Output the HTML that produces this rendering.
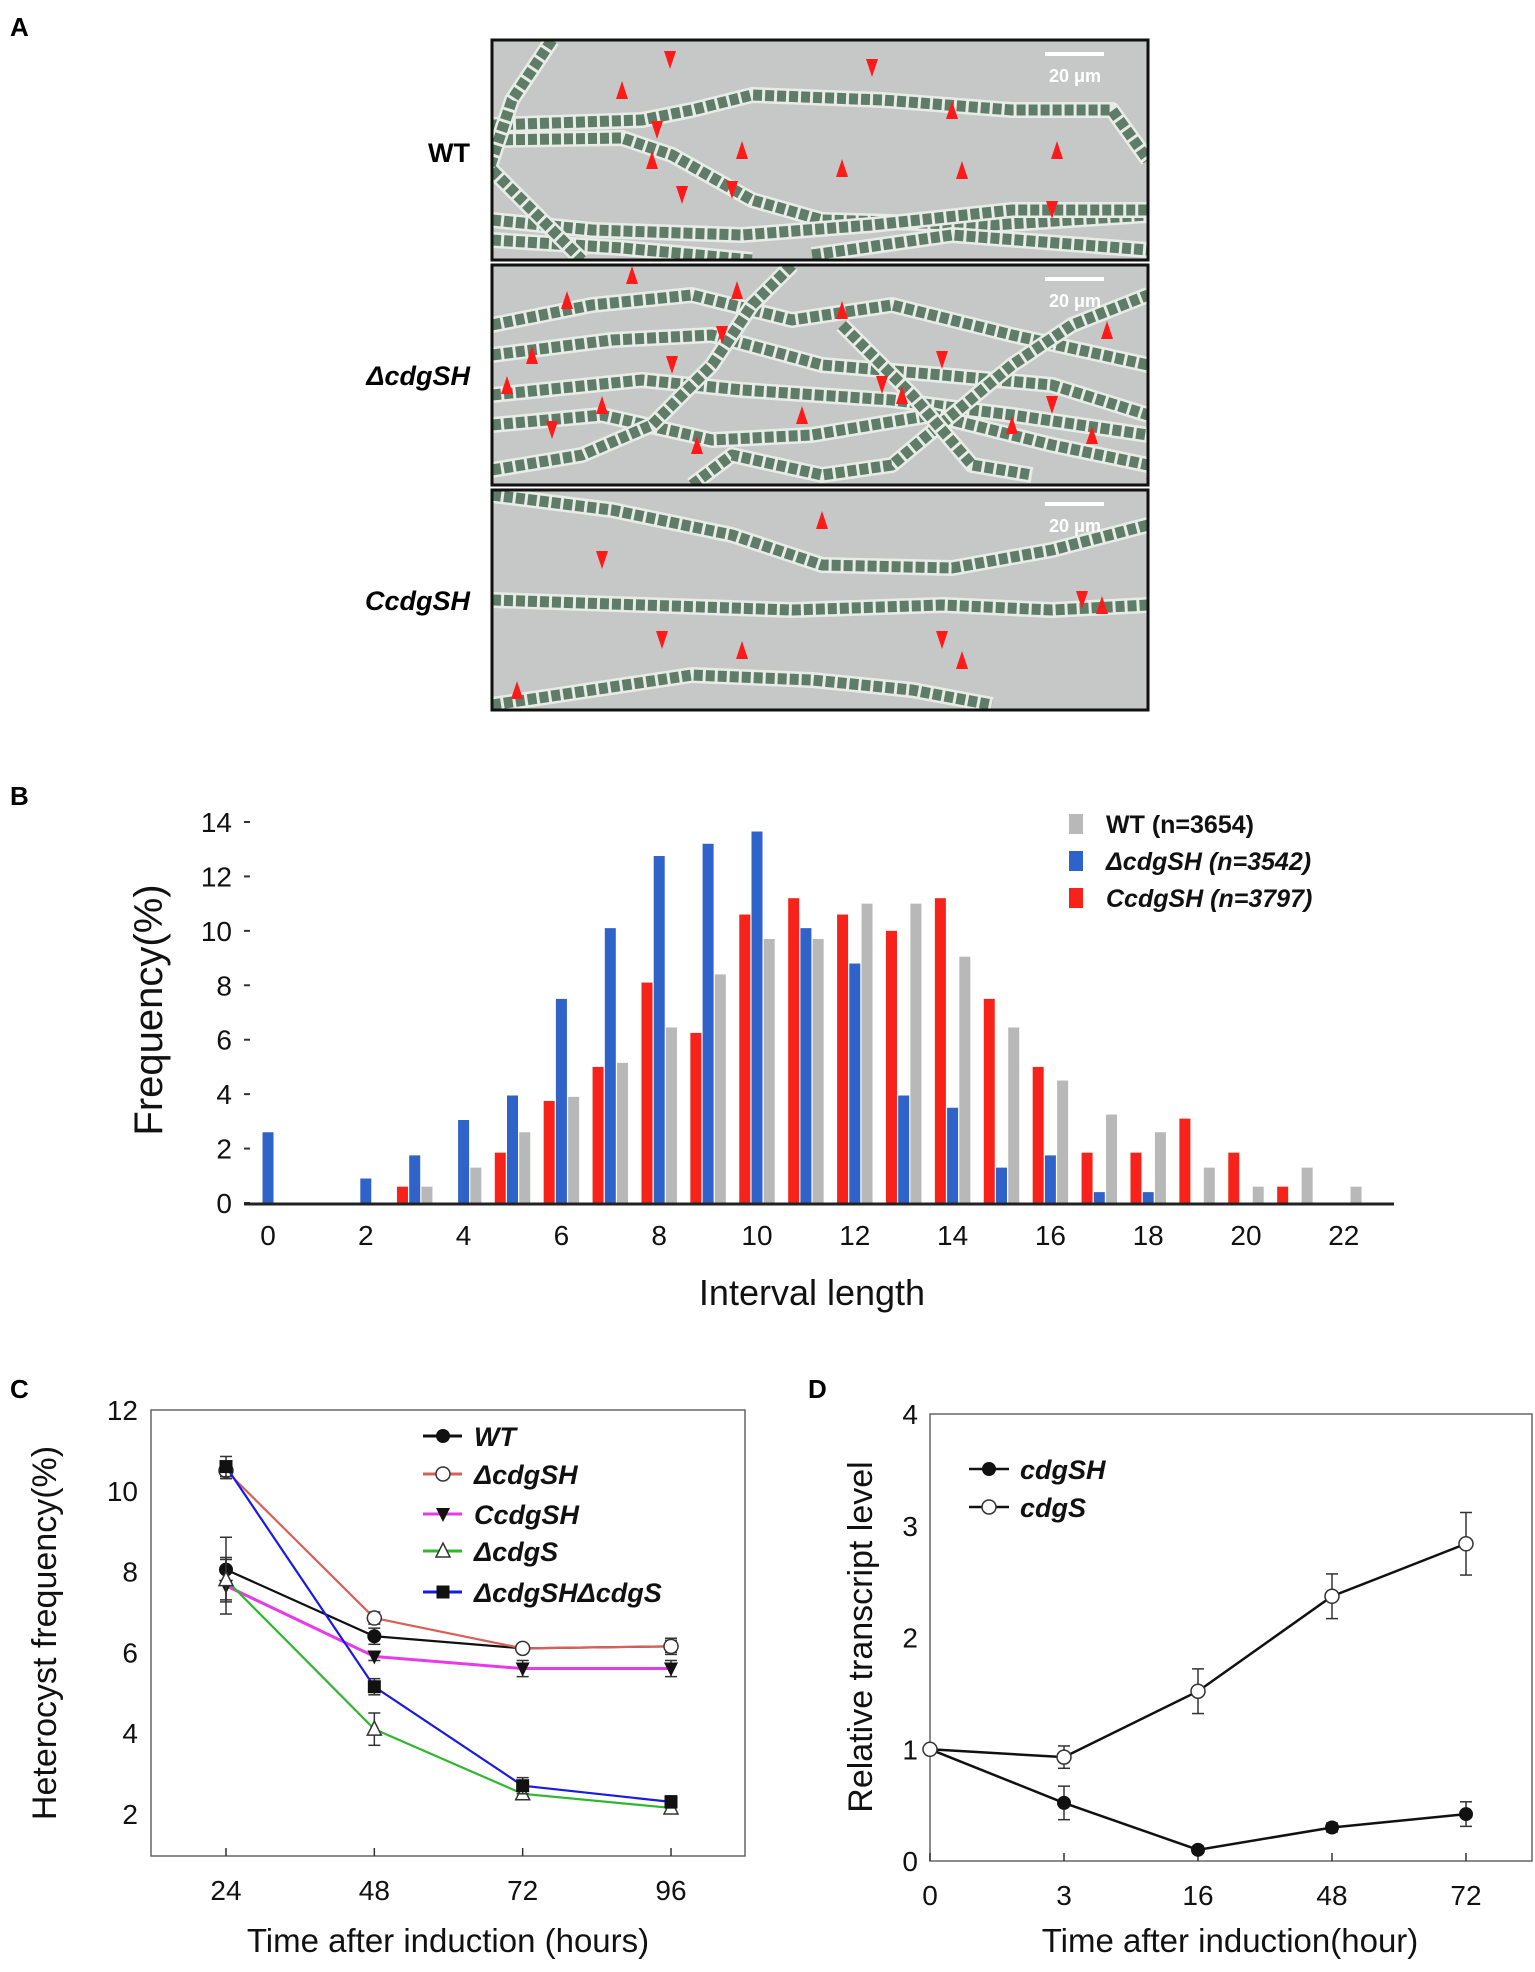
<!DOCTYPE html>
<html><head><meta charset="utf-8">
<style>
html,body{margin:0;padding:0;background:#fff;}
body{width:1535px;height:1967px;position:relative;overflow:hidden;font-family:"Liberation Sans",Arial,sans-serif;}
svg text{font-family:"Liberation Sans",Arial,sans-serif;}
</style></head>
<body>
<svg id="fig" width="1535" height="1967" viewBox="0 0 1535 1967" xmlns="http://www.w3.org/2000/svg">
<g id="panelA">
 <text x="10" y="36" font-size="26" font-weight="bold">A</text>
 <text x="470" y="162" font-size="27" font-weight="bold" text-anchor="end">WT</text>
 <text x="470" y="385" font-size="27" font-weight="bold" font-style="italic" text-anchor="end">ΔcdgSH</text>
 <text x="470" y="610" font-size="27" font-weight="bold" font-style="italic" text-anchor="end">CcdgSH</text>
</g>
<g id="panelB">
 <text x="10" y="805" font-size="26" font-weight="bold">B</text>
</g>
<g id="panelC">
 <text x="10" y="1398" font-size="26" font-weight="bold">C</text>
</g>
<g id="panelD">
 <text x="808" y="1398" font-size="26" font-weight="bold">D</text>
</g>
</svg>
<script>
const NS='http://www.w3.org/2000/svg';
function mk(tag,attrs,parent){const e=document.createElementNS(NS,tag);for(const k in attrs)e.setAttribute(k,attrs[k]);parent.appendChild(e);return e;}

// ===== Panel A micrographs =====
const gA=document.getElementById('panelA');
const micro=[
 {y:40,fil:[[[0,85],[150,80],[200,70],[260,55],[390,60],[520,70],[620,70],[656,120]],[[0,100],[130,98],[180,115],[260,160],[330,180],[500,185],[656,175]],[[60,0],[20,60],[-10,150]],[[0,180],[100,190],[250,195],[380,185],[520,170],[656,170]],[[0,200],[130,208],[260,220]],[[320,215],[460,195],[656,210]],[[0,130],[40,170],[90,220]]],
  tri:[[130,50,1],[178,20,0],[380,28,0],[460,70,1],[165,90,0],[190,155,0],[160,120,1],[250,110,1],[350,128,1],[470,130,1],[565,110,1],[240,150,0],[560,170,0]]},
 {y:265,fil:[[[0,60],[100,40],[200,30],[300,55],[400,40],[520,70],[656,100]],[[0,90],[120,75],[220,70],[330,100],[450,110],[560,120],[656,150]],[[0,130],[150,115],[250,125],[400,135],[520,150],[656,170]],[[0,160],[110,150],[220,175],[320,170],[440,150],[560,180],[656,200]],[[0,205],[90,190],[160,160],[220,100],[260,40],[300,0]],[[200,220],[240,190],[330,210],[400,200],[460,150],[520,100],[580,60],[656,30]],[[350,60],[420,130],[480,200],[540,210]]],
  tri:[[75,35,1],[140,10,1],[40,90,1],[15,120,1],[245,25,1],[350,45,1],[410,130,1],[615,65,1],[110,140,1],[205,180,1],[310,150,1],[520,160,1],[600,170,1],[660,205,1],[230,70,0],[180,100,0],[390,120,0],[60,165,0],[560,140,0],[450,95,0]]},
 {y:490,fil:[[[0,5],[120,20],[240,45],[330,75],[460,78],[560,60],[656,35]],[[0,110],[150,115],[300,120],[450,115],[560,120],[656,115]],[[0,215],[100,200],[200,185],[320,190],[420,200],[500,215]]],
  tri:[[110,70,0],[330,30,1],[590,110,0],[610,115,1],[170,150,0],[450,150,0],[25,200,1],[250,160,1],[470,170,1]]}
];
micro.forEach((p,pi)=>{
 const g=mk('g',{transform:`translate(492,${p.y})`},gA);
 
 
 mk('rect',{x:0,y:0,width:656,height:220,fill:'#c6c8c7'},g);
 const cp='cp'+pi;
 const cl=mk('clipPath',{id:cp},g);mk('rect',{x:0,y:0,width:656,height:220},cl);
 const gg=mk('g',{'clip-path':`url(#${cp})`},g);
 p.fil.forEach(f=>{
  const pts=f.map(q=>q.join(',')).join(' ');
  mk('polyline',{points:pts,fill:'none',stroke:'#e8ece6','stroke-width':16,'stroke-linejoin':'round'},gg);
  mk('polyline',{points:pts,fill:'none',stroke:'#5f7c68','stroke-width':11,'stroke-dasharray':'9 3','stroke-linejoin':'round'},gg);
 });
 p.tri.forEach(t=>{
  const [x,y,up]=t;
  const d=up?`M${x-6},${y+9}L${x+6},${y+9}L${x},${y-9}Z`:`M${x-6},${y-9}L${x+6},${y-9}L${x},${y+9}Z`;
  const tr=mk('path',{d:d,fill:'#ff1a1a'},gg);
  
  
 });
 mk('rect',{x:0,y:0,width:656,height:220,fill:'none',stroke:'#111','stroke-width':3},g);
 mk('line',{x1:553,y1:14,x2:612,y2:14,stroke:'#fff','stroke-width':4},g);
 const t=mk('text',{x:583,y:42,'font-size':18,'font-weight':'bold',fill:'#fff','text-anchor':'middle'},g);t.textContent='20 μm';
 
 
});

// ===== Panel B histogram =====
const bLengths=[0,1,2,3,4,5,6,7,8,9,10,11,12,13,14,15,16,17,18,19,20,21,22];
const bBlue=[2.6,0,0.9,1.75,3.05,3.95,7.5,10.1,12.75,13.2,13.65,10.1,8.8,3.95,3.5,1.3,1.75,0.4,0.4,0,0,0,0];
const bRed=[0,0,0,0.6,0,1.85,3.75,5.0,8.1,6.25,10.6,11.2,10.6,10.0,11.2,7.5,5.0,1.85,1.85,3.1,1.85,0.6,0];
const bGray=[0,0,0,0.6,1.3,2.6,3.9,5.15,6.45,8.4,9.7,9.7,11.0,11.0,9.05,6.45,4.5,3.25,2.6,1.3,0.6,1.3,0.6];
const bYTicks=[0,2,4,6,8,10,12,14];
const bXTicks=[0,2,4,6,8,10,12,14,16,18,20,22];
const bSeries=[{name:'WT (n=3654)',vals:bGray,col:'#b8b8b8',off:0.25,it:false,key:'wt'},{name:'ΔcdgSH (n=3542)',vals:bBlue,col:'#2f63c9',off:0,it:true,key:'dcdgsh'},{name:'CcdgSH (n=3797)',vals:bRed,col:'#f7231a',off:-0.25,it:true,key:'ccdgsh'}];
(function(){
 const g=document.getElementById('panelB');
 const X=v=>268+v*48.9, Y=v=>1203-v*(1203-822)/14;
 bYTicks.forEach(v=>{
  mk('line',{x1:244,y1:Y(v),x2:250,y2:Y(v),stroke:'#333','stroke-width':2},g);
  const t=mk('text',{x:232,y:Y(v)+10,'font-size':28,'text-anchor':'end',fill:'#111'},g);t.textContent=v;
  
  
 });
 bSeries.forEach(s=>{
  s.vals.forEach((v,i)=>{
   if(v<=0)return;
   const r=mk('rect',{x:X(bLengths[i]+s.off)-5.5,y:Y(v),width:11,height:Y(0)-Y(v),fill:s.col},g);
   
   
  });
 });
 const ax=mk('line',{x1:244,y1:Y(0)+1,x2:1394,y2:Y(0)+1,stroke:'#222','stroke-width':3},g);
 
 
 bXTicks.forEach(v=>{
  const t=mk('text',{x:X(v),y:1245,'font-size':28,'text-anchor':'middle',fill:'#111'},g);t.textContent=v;
  
  
 });
 const xt=mk('text',{x:812,y:1305,'font-size':36,'text-anchor':'middle',fill:'#111'},g);xt.textContent='Interval length';
 
 
 const yt=mk('text',{x:0,y:0,'font-size':40,'text-anchor':'middle',fill:'#111',transform:'translate(162,1010) rotate(-90)'},g);yt.textContent='Frequency(%)';
 
 
 bSeries.forEach((s,i)=>{
  const y=824+i*37;
  const le=mk('g',{},g);
  
  
  mk('rect',{x:1069,y:y-10,width:14,height:20,fill:s.col},le);
  const t=mk('text',{x:1106,y:y+9,'font-size':25,'font-weight':'bold','font-style':s.it?'italic':'normal',fill:'#111'},le);t.textContent=s.name;
 });
})();

// ===== Panel C =====
const cTimes=[24,48,72,96];
const cWT=[8.05,6.4,6.1,6.15], cWTerr=[0.8,0.2,0.1,0.15];
const cDH=[10.5,6.85,6.1,6.15], cDHerr=[0.2,0.15,0.1,0.2];
const cCH=[7.65,5.9,5.6,5.6], cCHerr=[0.7,0.1,0.2,0.2];
const cDS=[7.8,4.1,2.5,2.15], cDSerr=[0.5,0.4,0.1,0.1];
const cDD=[10.6,5.15,2.7,2.3], cDDerr=[0.25,0.2,0.2,0.15];
const cYTicks=[2,4,6,8,10,12];
// ===== Panel D =====
const dCats=['0','3','16','48','72'];
const dSH=[1,0.52,0.1,0.3,0.42], dSHerr=[0,0.15,0.03,0.04,0.11];
const dS=[1,0.93,1.52,2.37,2.84], dSerr=[0,0.1,0.2,0.2,0.28];
const dYTicks=[0,1,2,3,4];

function marker(g,type,x,y,col){
 const r=7;
 if(type==='fc')mk('circle',{cx:x,cy:y,r:r,fill:'#111'},g);
 else if(type==='oc')mk('circle',{cx:x,cy:y,r:r,fill:'#fff',stroke:'#333','stroke-width':1.5},g);
 else if(type==='dt')mk('path',{d:`M${x-7},${y-6}L${x+7},${y-6}L${x},${y+8}Z`,fill:'#111'},g);
 else if(type==='ot')mk('path',{d:`M${x-7},${y+6}L${x+7},${y+6}L${x},${y-8}Z`,fill:'#fff',stroke:'#333','stroke-width':1.5},g);
 else if(type==='sq')mk('rect',{x:x-6.5,y:y-6.5,width:13,height:13,fill:'#111'},g);
}
function lineChart(g,cfg){
 const {X,Y,series}=cfg;
 series.forEach(s=>{
  const sg=mk('g',{},g);
  
  
  s.vals.forEach((v,i)=>{
   const x=X(i),e=s.err[i];if(e<=0)return;
   mk('line',{x1:x,y1:Y(v-e),x2:x,y2:Y(v+e),stroke:'#333','stroke-width':1.5},sg);
   mk('line',{x1:x-6,y1:Y(v-e),x2:x+6,y2:Y(v-e),stroke:'#333','stroke-width':1.5},sg);
   mk('line',{x1:x-6,y1:Y(v+e),x2:x+6,y2:Y(v+e),stroke:'#333','stroke-width':1.5},sg);
  });
  const pts=s.vals.map((v,i)=>X(i)+','+Y(v)).join(' ');
  mk('polyline',{points:pts,fill:'none',stroke:s.col,'stroke-width':s.w||2.2},sg);
  s.vals.forEach((v,i)=>{
   const m=mk('g',{},sg);
   
   
   marker(m,s.m,X(i),Y(v));
  });
 });
}
(function(){
 const g=document.getElementById('panelC');
 const X=i=>226+i*(671-226)/3, Y=v=>1814-(v-2)*40.4;
 mk('rect',{x:151,y:1410,width:594,height:446,fill:'none',stroke:'#666','stroke-width':1.5},g);
 cYTicks.forEach(v=>{
  const t=mk('text',{x:138,y:Y(v)+10,'font-size':28,'text-anchor':'end',fill:'#111'},g);t.textContent=v;
  
  
 });
 cTimes.forEach((v,i)=>{
  mk('line',{x1:X(i),y1:1856,x2:X(i),y2:1848,stroke:'#333','stroke-width':1.5},g);
  const t=mk('text',{x:X(i),y:1900,'font-size':28,'text-anchor':'middle',fill:'#111'},g);t.textContent=v;
  
  
 });
 const series=[
  {key:'wt',vals:cWT,err:cWTerr,col:'#111',m:'fc',name:'WT'},
  {key:'dcdgsh',vals:cDH,err:cDHerr,col:'#d9605a',m:'oc',name:'ΔcdgSH'},
  {key:'ccdgsh',vals:cCH,err:cCHerr,col:'#e83ae8',m:'dt',name:'CcdgSH',w:3},
  {key:'dcdgs',vals:cDS,err:cDSerr,col:'#2eb82e',m:'ot',name:'ΔcdgS'},
  {key:'dcdgsh-dcdgs',vals:cDD,err:cDDerr,col:'#1a1ae6',m:'sq',name:'ΔcdgSHΔcdgS'}];
 lineChart(g,{X,Y,series});
 const ly=[1436,1474,1514,1551,1592];
 series.forEach((s,i)=>{
  const le=mk('g',{},g);
  
  
  mk('line',{x1:423,y1:ly[i],x2:462,y2:ly[i],stroke:s.col,'stroke-width':3},le);
  marker(le,s.m,443,ly[i]);
  const t=mk('text',{x:474,y:ly[i]+10,'font-size':27,'font-weight':'bold','font-style':'italic',fill:'#111'},le);t.textContent=s.name;
 });
 const xt=mk('text',{x:448,y:1952,'font-size':33,'text-anchor':'middle',fill:'#111'},g);xt.textContent='Time after induction (hours)';
 
 
 const yt=mk('text',{x:0,y:0,'font-size':34,'text-anchor':'middle',fill:'#111',transform:'translate(56,1633) rotate(-90)'},g);yt.textContent='Heterocyst frequency(%)';
 
 
})();
(function(){
 const g=document.getElementById('panelD');
 const X=i=>930+i*(1466-930)/4, Y=v=>1861-v*111.7;
 mk('rect',{x:930,y:1414,width:602,height:447,fill:'none',stroke:'#666','stroke-width':1.5},g);
 dYTicks.forEach(v=>{
  const t=mk('text',{x:918,y:Y(v)+10,'font-size':28,'text-anchor':'end',fill:'#111'},g);t.textContent=v;
  
  
 });
 dCats.forEach((v,i)=>{
  mk('line',{x1:X(i),y1:1861,x2:X(i),y2:1853,stroke:'#333','stroke-width':1.5},g);
  const t=mk('text',{x:X(i),y:1905,'font-size':28,'text-anchor':'middle',fill:'#111'},g);t.textContent=v;
  
  
 });
 const series=[
  {key:'cdgsh',vals:dSH,err:dSHerr,col:'#111',m:'fc',name:'cdgSH',w:2.5},
  {key:'cdgs',vals:dS,err:dSerr,col:'#111',m:'oc',name:'cdgS',w:2.5}];
 lineChart(g,{X,Y,series});
 const ly=[1469,1507];
 series.forEach((s,i)=>{
  const le=mk('g',{},g);
  
  
  mk('line',{x1:969,y1:ly[i],x2:1009,y2:ly[i],stroke:'#111','stroke-width':2.5},le);
  marker(le,s.m,989,ly[i]);
  const t=mk('text',{x:1020,y:ly[i]+10,'font-size':27,'font-weight':'bold','font-style':'italic',fill:'#111'},le);t.textContent=s.name;
 });
 const xt=mk('text',{x:1230,y:1952,'font-size':33,'text-anchor':'middle',fill:'#111'},g);xt.textContent='Time after induction(hour)';
 
 
 const yt=mk('text',{x:0,y:0,'font-size':34,'text-anchor':'middle',fill:'#111',transform:'translate(872,1637) rotate(-90)'},g);yt.textContent='Relative transcript level';
 
 
})();
</script>
</body></html>
